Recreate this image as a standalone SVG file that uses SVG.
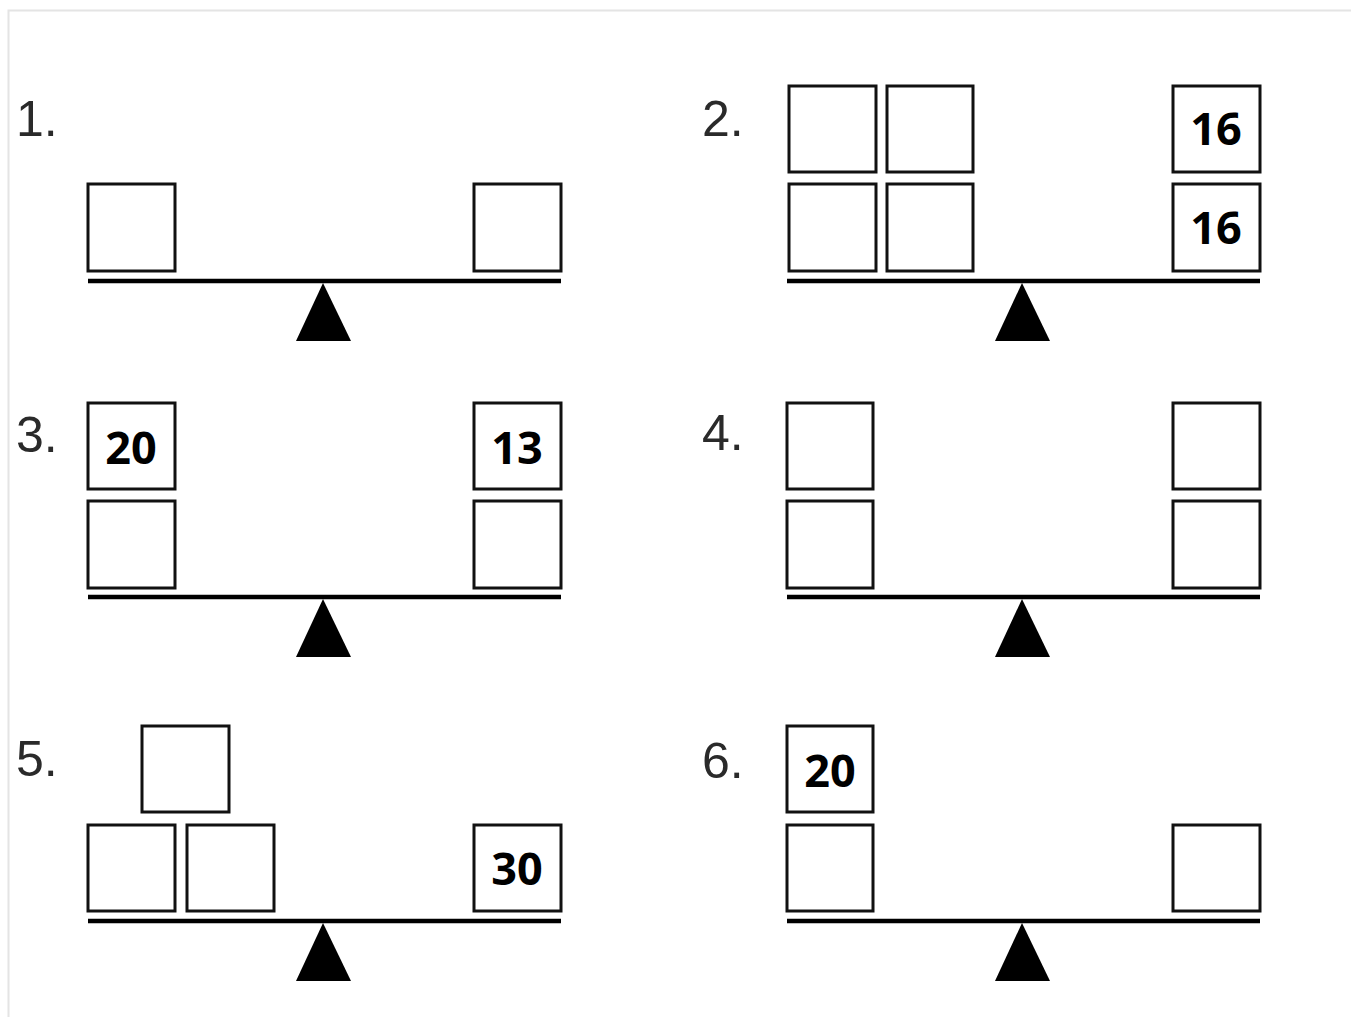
<svg xmlns="http://www.w3.org/2000/svg" width="1351" height="1017" viewBox="0 0 1351 1017">
<style>
.box{fill:#fff;stroke:#111;stroke-width:3}
.beam{stroke:#000;stroke-width:4.5;fill:none}
.tri{fill:#000}
.lbl{font-family:"Liberation Sans","DejaVu Sans",sans-serif;font-weight:300;font-size:50px;fill:#2a2a2a}
.num{font-family:"Open Sans","Liberation Sans",sans-serif;font-weight:700;font-size:45px;fill:#000;text-anchor:middle}
</style>
<rect x="0" y="0" width="1351" height="1017" fill="#fff"/>
<path d="M8.5 1017 V10.5 H1351" fill="none" stroke="#e4e4e4" stroke-width="2"/>
<g id="connectors">
<line class="beam" x1="88" y1="281" x2="561" y2="281"/>
<line class="beam" x1="787" y1="281" x2="1260" y2="281"/>
<line class="beam" x1="88" y1="597" x2="561" y2="597"/>
<line class="beam" x1="787" y1="597" x2="1260" y2="597"/>
<line class="beam" x1="88" y1="921" x2="561" y2="921"/>
<line class="beam" x1="787" y1="921" x2="1260" y2="921"/>
<polygon class="tri" points="323,283 351,341 296,341"/>
<polygon class="tri" points="1022,283 1050,341 995,341"/>
<polygon class="tri" points="323,599 351,657 296,657"/>
<polygon class="tri" points="1022,599 1050,657 995,657"/>
<polygon class="tri" points="323,923 351,981 296,981"/>
<polygon class="tri" points="1022,923 1050,981 995,981"/>
</g>
<g id="p1">
<text class="lbl" x="16" y="136">1.</text>
<rect class="box" x="88" y="184" width="87" height="87"/>
<rect class="box" x="474" y="184" width="87" height="87"/>
</g>
<g id="p2">
<text class="lbl" x="702" y="136">2.</text>
<rect class="box" x="789" y="86" width="87" height="86"/>
<rect class="box" x="887" y="86" width="86" height="86"/>
<rect class="box" x="789" y="184" width="87" height="87"/>
<rect class="box" x="887" y="184" width="86" height="87"/>
<rect class="box" x="1173" y="86" width="87" height="86"/>
<text class="num" x="1216" y="145">16</text>
<rect class="box" x="1173" y="184" width="87" height="87"/>
<text class="num" x="1216" y="244">16</text>
</g>
<g id="p3">
<text class="lbl" x="16" y="452">3.</text>
<rect class="box" x="88" y="403" width="87" height="86"/>
<text class="num" x="131" y="464">20</text>
<rect class="box" x="88" y="501" width="87" height="87"/>
<rect class="box" x="474" y="403" width="87" height="86"/>
<text class="num" x="517" y="464">13</text>
<rect class="box" x="474" y="501" width="87" height="87"/>
</g>
<g id="p4">
<text class="lbl" x="702" y="450">4.</text>
<rect class="box" x="787" y="403" width="86" height="86"/>
<rect class="box" x="787" y="501" width="86" height="87"/>
<rect class="box" x="1173" y="403" width="87" height="86"/>
<rect class="box" x="1173" y="501" width="87" height="87"/>
</g>
<g id="p5">
<text class="lbl" x="16" y="776">5.</text>
<rect class="box" x="142" y="726" width="87" height="86"/>
<rect class="box" x="88" y="825" width="87" height="86"/>
<rect class="box" x="187" y="825" width="87" height="86"/>
<rect class="box" x="474" y="825" width="87" height="86"/>
<text class="num" x="517" y="885">30</text>
</g>
<g id="p6">
<text class="lbl" x="702" y="778">6.</text>
<rect class="box" x="787" y="726" width="86" height="86"/>
<text class="num" x="830" y="787">20</text>
<rect class="box" x="787" y="825" width="86" height="86"/>
<rect class="box" x="1173" y="825" width="87" height="86"/>
</g>
</svg>
